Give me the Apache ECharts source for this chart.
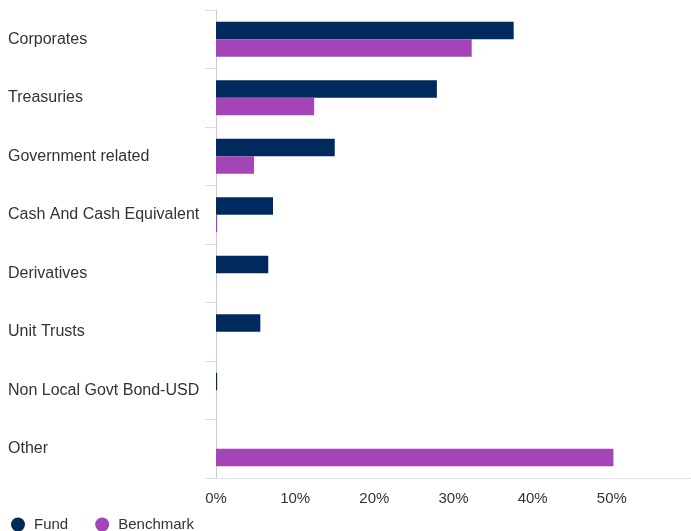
<!DOCTYPE html>
<html><head><meta charset="utf-8">
<script src="https://cdn.jsdelivr.net/npm/echarts@6/dist/echarts.min.js"></script>
<style>html,body{margin:0;padding:0;background:#fff}#c{width:691px;height:531px}</style>
</head><body><div id="c"></div>
<script>
const categories = ["Corporates","Treasuries","Government related","Cash And Cash Equivalent","Derivatives","Unit Trusts","Non Local Govt Bond-USD","Other"];
const fundValues = [37.6, 27.9, 15.0, 7.2, 6.6, 5.6, 0.15, 0];
const benchmarkValues = [32.3, 12.4, 4.8, 0.15, 0, 0, 0, 50.2];
const xTicks = [0, 10, 20, 30, 40, 50, 60];

const chart = echarts.init(document.getElementById('c'), null, {renderer: 'canvas'});
chart.setOption({
  animation: false,
  textStyle: {fontFamily: 'Liberation Sans, Arial, sans-serif'},
  grid: {left: 216, right: 0, top: 10, bottom: 53, containLabel: false},
  legend: {
    left: 11, top: 517, padding: 0, icon: 'circle', itemWidth: 14, itemHeight: 14, itemGap: 27,
    textStyle: {fontSize: 15, color: '#333', padding: [0, 0, 0, 4], fontFamily: 'Liberation Sans, Arial, sans-serif'},
    data: ['Fund', 'Benchmark']
  },
  xAxis: {
    type: 'value', min: xTicks[0], max: xTicks[xTicks.length - 1], interval: 10,
    axisLine: {show: true, lineStyle: {color: '#dde0ee', width: 1}},
    axisTick: {show: false},
    splitLine: {show: false},
    axisLabel: {
      color: '#333', fontSize: 15, margin: 13, showMaxLabel: false,
      formatter: v => v + '%'
    }
  },
  yAxis: {
    type: 'category', data: categories, inverse: true,
    axisLine: {show: true, lineStyle: {color: '#cccccc', width: 1}},
    axisTick: {show: true, length: 11, lineStyle: {color: '#d8dcee', width: 1}},
    axisLabel: {
      color: '#333', fontSize: 16, align: 'left', margin: 208,
      padding: [7, 0, 0, 0]
    }
  },
  series: [
    {name: 'Fund', type: 'bar', data: fundValues, barWidth: 17.5, barGap: '0%',
     itemStyle: {color: '#002a5e'}},
    {name: 'Benchmark', type: 'bar', data: benchmarkValues, barWidth: 17.5, barGap: '0%',
     itemStyle: {color: '#a445b7'}}
  ]
});
</script></body></html>
